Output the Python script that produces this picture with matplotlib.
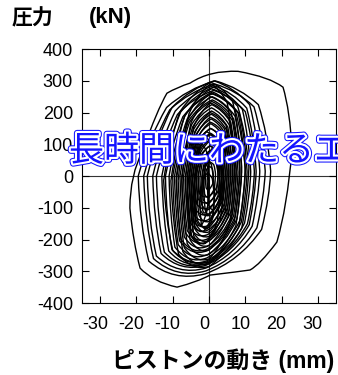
import matplotlib
matplotlib.use("Agg")
import matplotlib.pyplot as plt
import matplotlib.patheffects as pe
import matplotlib.transforms as mtransforms
from matplotlib.path import Path
from matplotlib.patches import PathPatch

plt.rcParams["axes.unicode_minus"] = False

# hysteresis loops (displacement mm, force kN)
loops_x = [
    [22.9, 22.3, 20.4, 16.8, 8.0, 0.3, -5.2, -8.8, -11.6, -14.3, -18.2, -21.8, -21.8, -20.9, -19.0, -15.4, -8.8, -3.3, 0.3, 7.7, 11.3, 14.0, 18.7, 21.5],
    [17, 16.2, 13.6, 8.5, 1.7, -5.9, -11.7, -16.6, -19.5, -19.1, -16.6, -9.8, -1.0, 8.5, 14.5, 16.7],
    [15.5, 14.7, 12.4, 7.8, 1.6, -5.4, -10.8, -15.3, -18, -17.6, -15.3, -9, -0.9, 7.8, 13.2, 15.2],
    [14, 13.3, 11.2, 7, 1.4, -5.1, -10.2, -14.5, -17, -16.7, -14.5, -8.5, -0.9, 7, 11.9, 13.7],
    [13, 12.4, 10.4, 6.5, 1.3, -4.7, -9.3, -13.2, -15.5, -15.2, -13.2, -7.8, -0.8, 6.5, 11.1, 12.7],
    [12.5, 11.9, 10, 6.3, 1.3, -4.4, -8.7, -12.3, -14.5, -14.2, -12.3, -7.3, -0.7, 6.3, 10.6, 12.3],
    [11.5, 10.9, 9.2, 5.8, 1.2, -3.9, -7.8, -11.1, -13, -12.7, -11.1, -6.5, -0.7, 5.8, 9.8, 11.3],
    [10.5, 10, 8.4, 5.3, 1.1, -3.6, -7.2, -10.2, -12, -11.8, -10.2, -6, -0.6, 5.3, 8.9, 10.3],
    [10, 9.5, 8, 5, 1, -3.3, -6.6, -9.4, -11, -10.8, -9.4, -5.5, -0.6, 5, 8.5, 9.8],
    [9, 8.6, 7.2, 4.5, 0.9, -3, -6, -8.5, -10, -9.8, -8.5, -5, -0.5, 4.5, 7.7, 8.8],
    [8.5, 8.1, 6.8, 4.3, 0.9, -2.9, -5.7, -8.1, -9.5, -9.3, -8.1, -4.8, -0.5, 4.3, 7.2, 8.3],
    [8, 7.6, 6.4, 4, 0.8, -2.7, -5.4, -7.7, -9, -8.8, -7.7, -4.5, -0.5, 4, 6.8, 7.8],
    [7.5, 7.1, 6, 3.8, 0.8, -2.4, -4.8, -6.8, -8, -7.8, -6.8, -4, -0.4, 3.8, 6.4, 7.4],
    [7, 6.7, 5.6, 3.5, 0.7, -2.3, -4.5, -6.4, -7.5, -7.4, -6.4, -3.8, -0.4, 3.5, 6, 6.9],
    [6.5, 6.2, 5.2, 3.3, 0.7, -2.1, -4.2, -6, -7, -6.9, -6, -3.5, -0.4, 3.3, 5.5, 6.4],
    [6, 5.7, 4.8, 3, 0.6, -2, -3.9, -5.5, -6.5, -6.4, -5.5, -3.3, -0.3, 3, 5.1, 5.9],
    [5.5, 5.2, 4.4, 2.8, 0.6, -1.8, -3.6, -5.1, -6, -5.9, -5.1, -3, -0.3, 2.8, 4.7, 5.4],
    [5, 4.8, 4, 2.5, 0.5, -1.7, -3.3, -4.7, -5.5, -5.4, -4.7, -2.8, -0.3, 2.5, 4.3, 4.9],
    [4.5, 4.3, 3.6, 2.3, 0.5, -1.5, -3, -4.3, -5, -4.9, -4.3, -2.5, -0.3, 2.3, 3.8, 4.4],
    [4, 3.8, 3.2, 2, 0.4, -1.4, -2.7, -3.8, -4.5, -4.4, -3.8, -2.3, -0.2, 2, 3.4, 3.9],
    [3.5, 3.3, 2.8, 1.8, 0.4, -1.2, -2.4, -3.4, -4, -3.9, -3.4, -2, -0.2, 1.8, 3, 3.4],
    [3, 2.9, 2.4, 1.5, 0.3, -1.1, -2.1, -3, -3.5, -3.4, -3, -1.8, -0.2, 1.5, 2.6, 2.9],
    [2.5, 2.4, 2, 1.3, 0.3, -0.9, -1.8, -2.6, -3, -2.9, -2.6, -1.5, -0.2, 1.3, 2.1, 2.5],
    [9, 8.3, 6.5, 3.6, 0.5, -4.4, -8.1, -11, -12.5, -11.9, -10, -5.6, 0, 4.1, 7.4, 8.7],
    [11, 10.1, 7.9, 4.4, 0.6, -3.7, -6.8, -9.2, -10.5, -10, -8.4, -4.7, 0, 5, 9, 10.7],
    [10, 9.2, 7.2, 4, 0.5, -3.2, -5.9, -7.9, -9, -8.6, -7.2, -4.1, 0, 4.5, 8.2, 9.7],
    [7, 6.4, 5, 2.8, 0.4, -3, -5.5, -7.5, -8.5, -8.1, -6.8, -3.8, 0, 3.2, 5.7, 6.8],
    [8.5, 7.8, 6.1, 3.4, 0.4, -2.6, -4.9, -6.6, -7.5, -7.1, -6, -3.4, 0, 3.8, 7, 8.2],
    [7.5, 6.9, 5.4, 3, 0.4, -2.3, -4.2, -5.7, -6.5, -6.2, -5.2, -2.9, 0, 3.4, 6.2, 7.3],
    [6.5, 6, 4.7, 2.6, 0.3, -2.1, -3.9, -5.3, -6, -5.7, -4.8, -2.7, 0, 2.9, 5.3, 6.3],
    [6, 5.5, 4.3, 2.4, 0.3, -1.9, -3.6, -4.8, -5.5, -5.2, -4.4, -2.5, 0, 2.7, 4.9, 5.8],
    [5.5, 5.1, 4, 2.2, 0.3, -1.8, -3.3, -4.4, -5, -4.8, -4, -2.3, 0, 2.5, 4.5, 5.3],
    [5, 4.6, 3.6, 2, 0.3, -1.6, -2.9, -4, -4.5, -4.3, -3.6, -2, 0, 2.3, 4.1, 4.9],
    [4.5, 4.1, 3.2, 1.8, 0.2, -1.4, -2.6, -3.5, -4, -3.8, -3.2, -1.8, 0, 2, 3.7, 4.4],
    [4, 3.7, 2.9, 1.6, 0.2, -1.2, -2.3, -3.1, -3.5, -3.3, -2.8, -1.6, 0, 1.8, 3.3, 3.9],
    [3.5, 3.2, 2.5, 1.4, 0.2, -1.1, -2, -2.6, -3, -2.9, -2.4, -1.4, 0, 1.6, 2.9, 3.4],
    [3, 2.8, 2.2, 1.2, 0.2, -0.9, -1.6, -2.2, -2.5, -2.4, -2, -1.1, 0, 1.4, 2.5, 2.9],
    [2.5, 2.3, 1.8, 1, 0.1, -0.7, -1.3, -1.8, -2, -1.9, -1.6, -0.9, 0, 1.1, 2.1, 2.4],
    [1.8, 1.7, 1.3, 0.7, 0.1, -0.5, -1, -1.3, -1.5, -1.4, -1.2, -0.7, 0, 0.8, 1.5, 1.7],
    [1.2, 1.1, 0.9, 0.5, 0.1, -0.4, -0.7, -0.9, -1, -1, -0.8, -0.5, 0, 0.5, 1, 1.2],
    [1.5, 1.26, 0.66, -0.3, -1.35, -2.55, -3.45, -4.14, -4.5, -4.35, -3.9, -2.85, -1.5, -0.15, 0.96, 1.41],
    [3.5, 3.3, 2.8, 2, 1.1, 0.1, -0.6, -1.2, -1.5, -1.4, -1, -0.1, 1, 2.1, 3.1, 3.4],
    [1.5, 1.3, 0.9, 0.3, -0.4, -1.2, -1.8, -2.3, -2.5, -2.4, -2.1, -1.4, -0.5, 0.4, 1.1, 1.4],
    [3, 2.7, 1.9, 0.6, -0.8, -2.4, -3.6, -4.5, -5, -4.8, -4.2, -2.8, -1, 0.8, 2.3, 2.9],
    [0, -0.2, -0.6, -1.2, -1.9, -2.7, -3.3, -3.8, -4, -3.9, -3.6, -2.9, -2, -1.1, -0.4, -0.1],
    [3.5, 3.3, 2.9, 2.3, 1.6, 0.8, 0.2, -0.3, -0.5, -0.4, -0.1, 0.6, 1.5, 2.4, 3.1, 3.4],
    [4, 3.6, 2.6, 1, -0.75, -2.75, -4.25, -5.4, -6, -5.75, -5, -3.25, -1, 1.25, 3.1, 3.85],
    [0, -0.08, -0.28, -0.6, -0.95, -1.35, -1.65, -1.88, -2, -1.95, -1.8, -1.45, -1, -0.55, -0.18, -0.03],
]
loops_y = [
    [82, 208, 280, 312, 330, 334, 293, 280, 261, 208, 82, 3, -101, -208, -290, -334, -350, -334, -312, -302, -296, -280, -208, -101],
    [15, 135, 225, 279, 300, 276, 216, 120, 0, -151, -268, -335, -308, -268, -168, -67],
    [15, 130, 218, 270, 290, 267, 209, 116, 0, -146, -260, -325, -299, -260, -163, -65],
    [15, 135, 225, 279, 300, 276, 216, 120, 0, -142, -252, -315, -290, -252, -158, -63],
    [14, 128, 214, 265, 285, 262, 205, 114, 0, -137, -244, -305, -281, -244, -153, -61],
    [14, 122, 203, 251, 270, 248, 194, 108, 0, -135, -240, -300, -276, -240, -150, -60],
    [14, 126, 210, 260, 280, 258, 202, 112, 0, -133, -236, -295, -271, -236, -148, -59],
    [13, 117, 195, 242, 260, 239, 187, 104, 0, -131, -232, -290, -267, -232, -145, -58],
    [13, 119, 199, 246, 265, 244, 191, 106, 0, -126, -224, -280, -258, -224, -140, -56],
    [13, 113, 188, 233, 250, 230, 180, 100, 0, -122, -216, -270, -248, -216, -135, -54],
    [12, 108, 180, 223, 240, 221, 173, 96, 0, -115, -204, -255, -235, -204, -128, -51],
    [12, 106, 176, 219, 235, 216, 169, 94, 0, -113, -200, -250, -230, -200, -125, -50],
    [11, 101, 169, 209, 225, 207, 162, 90, 0, -108, -192, -240, -221, -192, -120, -48],
    [11, 97, 161, 200, 215, 198, 155, 86, 0, -101, -180, -225, -207, -180, -113, -45],
    [10, 92, 154, 191, 205, 189, 148, 82, 0, -97, -172, -215, -198, -172, -108, -43],
    [10, 88, 146, 181, 195, 179, 140, 78, 0, -90, -160, -200, -184, -160, -100, -40],
    [9, 81, 135, 167, 180, 166, 130, 72, 0, -83, -148, -185, -170, -148, -93, -37],
    [8, 74, 124, 153, 165, 152, 119, 66, 0, -77, -136, -170, -156, -136, -85, -34],
    [8, 68, 113, 140, 150, 138, 108, 60, 0, -68, -120, -150, -138, -120, -75, -30],
    [7, 61, 101, 126, 135, 124, 97, 54, 0, -59, -104, -130, -120, -104, -65, -26],
    [6, 52, 86, 107, 115, 106, 83, 46, 0, -50, -88, -110, -101, -88, -55, -22],
    [5, 43, 71, 88, 95, 87, 68, 38, 0, -41, -72, -90, -83, -72, -45, -18],
    [4, 34, 56, 70, 75, 69, 54, 30, 0, -32, -56, -70, -64, -56, -35, -14],
    [30, 148, 236, 283, 295, 266, 201, 103, -14, -143, -234, -285, -271, -234, -157, -63],
    [28, 138, 220, 264, 275, 248, 187, 96, -15, -150, -246, -300, -285, -246, -165, -66],
    [26, 130, 208, 250, 260, 234, 177, 91, -15, -145, -238, -290, -276, -238, -160, -64],
    [29, 145, 232, 278, 290, 261, 197, 102, -14, -138, -226, -275, -261, -226, -151, -61],
    [25, 125, 200, 240, 250, 225, 170, 88, -13, -130, -213, -260, -247, -213, -143, -57],
    [23, 115, 184, 221, 230, 207, 156, 81, -12, -123, -201, -245, -233, -201, -135, -54],
    [20, 100, 160, 192, 200, 180, 136, 70, -12, -115, -189, -230, -219, -189, -127, -51],
    [19, 93, 148, 178, 185, 167, 126, 65, -11, -108, -176, -215, -204, -176, -118, -47],
    [17, 85, 136, 163, 170, 153, 116, 60, -10, -100, -164, -200, -190, -164, -110, -44],
    [15, 75, 120, 144, 150, 135, 102, 53, -9, -93, -152, -185, -176, -152, -102, -41],
    [13, 65, 104, 125, 130, 117, 88, 46, -9, -85, -139, -170, -162, -139, -94, -37],
    [11, 55, 88, 106, 110, 99, 75, 39, -8, -75, -123, -150, -143, -123, -83, -33],
    [10, 48, 76, 91, 95, 86, 65, 33, -7, -65, -107, -130, -124, -107, -72, -29],
    [8, 40, 64, 77, 80, 72, 54, 28, -6, -55, -90, -110, -105, -90, -61, -24],
    [6, 30, 48, 58, 60, 54, 41, 21, -5, -45, -74, -90, -86, -74, -50, -20],
    [5, 23, 36, 43, 45, 41, 31, 16, -4, -35, -57, -70, -67, -57, -39, -15],
    [3, 15, 24, 29, 30, 27, 20, 11, -2, -23, -37, -45, -43, -37, -25, -10],
    [-48, 0, 36, 55, 60, 48, 22, -18, -66, -120, -158, -180, -174, -158, -126, -86],
    [-9, 35, 68, 86, 90, 79, 55, 19, -26, -75, -110, -130, -125, -110, -81, -44],
    [-71, -35, -8, 6, 10, 1, -19, -49, -85, -125, -154, -170, -166, -154, -130, -100],
    [-33, 35, 86, 113, 120, 103, 66, 10, -59, -135, -189, -220, -212, -189, -144, -87],
    [-17, 35, 74, 95, 100, 87, 58, 16, -37, -95, -137, -160, -154, -137, -102, -59],
    [0, 40, 70, 86, 90, 80, 58, 25, -15, -60, -92, -110, -105, -92, -65, -32],
    [-22, 50, 104, 133, 140, 122, 82, 23, -49, -130, -188, -220, -211, -188, -139, -80],
    [-32, 0, 24, 37, 40, 32, 14, -12, -44, -80, -106, -120, -116, -106, -84, -58],
]

x_ticks = [-30, -20, -10, 0, 10, 20, 30]
y_ticks = [-400, -300, -200, -100, 0, 100, 200, 300, 400]

fig = plt.figure(figsize=(3.38, 3.75), dpi=100)
ax = fig.add_axes([0.2426, 0.192, 0.7515, 0.677])

# each loop drawn as a closed quadratic path through the read points
for xs, ys in zip(loops_x, loops_y):
    verts = list(zip(xs, ys)) + [(xs[0], ys[0])]
    codes = [Path.MOVETO] + [Path.CURVE3] * (len(verts) - 1)
    ax.add_patch(PathPatch(Path(verts, codes), facecolor="none",
                           edgecolor="black", lw=1.0))

ax.axhline(0, color="#333333", lw=0.8, zorder=0)
ax.axvline(0, color="#333333", lw=0.8, zorder=0)

ax.set_xlim(-35, 35)
ax.set_ylim(-400, 400)
ax.set_xticks(x_ticks)
ax.set_yticks(y_ticks)
ax.tick_params(axis="both", direction="in", top=True, right=True,
               length=5, width=0.8, labelsize=13,
               labelfontfamily="Liberation Sans")
ax.tick_params(axis="x", pad=9.5)
ax.tick_params(axis="y", pad=6.5)
for sp in ax.spines.values():
    sp.set_linewidth(0.8)

shift = mtransforms.ScaledTranslation(-5 / 100, 0, fig.dpi_scale_trans)
for lbl in ax.get_xticklabels():
    lbl.set_transform(lbl.get_transform() + shift)

bold_font = ["Liberation Sans", "Noto Sans CJK JP"]
fig.text(12 / 338, 1 - 18 / 375, "圧力", fontsize=15, fontweight="bold",
         family=bold_font, va="center", ha="left")
fig.text(89 / 338, 1 - 18 / 375, "(kN)", fontsize=16, fontweight="bold",
         family=bold_font, va="center", ha="left")
fig.text(334 / 338, 1 - 361 / 375, "ピストンの動き (mm)", fontsize=16.5,
         fontweight="bold", family=bold_font, va="center", ha="right")

fig.text(69 / 338, 1 - 151 / 375, "長時間にわたるエ", fontsize=25.2,
         color="#1414ff", family=["Noto Sans CJK JP"], va="center", ha="left",
         zorder=5,
         path_effects=[pe.Stroke(linewidth=4.5, foreground="#1414ff"),
                       pe.Stroke(linewidth=3, foreground="white"),
                       pe.Normal()])

fig.savefig("out.png", dpi=100)
